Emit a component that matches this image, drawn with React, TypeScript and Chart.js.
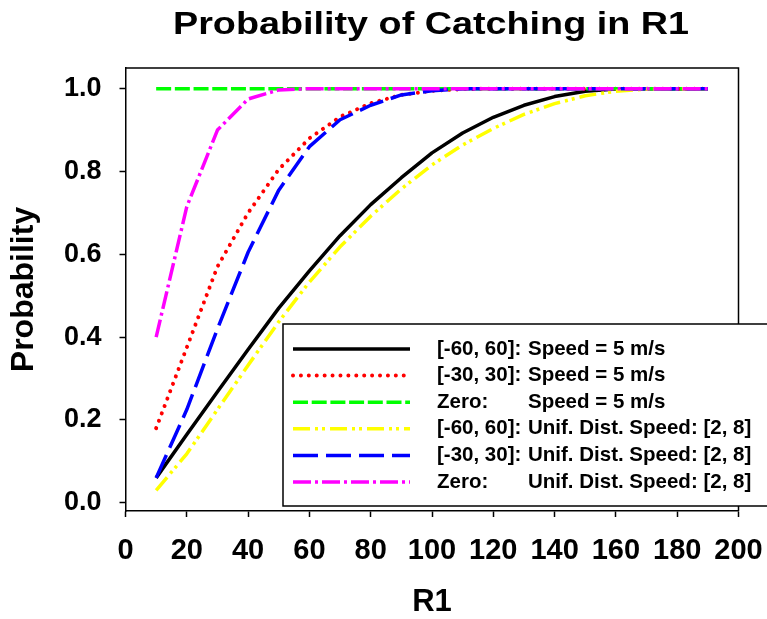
import React, { useEffect, useRef } from 'react';
import { Chart, registerables } from 'chart.js';

Chart.register(...registerables);

// ---- data ----
const rValues = [10, 20, 30, 40, 50, 60, 70, 80, 90, 100, 110, 120, 130, 140, 150, 160, 170, 180, 190];
const speed5Range60 = [0.06, 0.165, 0.268, 0.37, 0.47, 0.56, 0.645, 0.72, 0.785, 0.845, 0.893, 0.931, 0.96, 0.981, 0.994, 0.999, 1, 1, 1];
const speed5Range30 = [0.18, 0.375, 0.57, 0.7, 0.805, 0.88, 0.932, 0.965, 0.985, 0.995, 0.999, 1, 1, 1, 1, 1, 1, 1, 1];
const speed5Zero = [1, 1, 1, 1, 1, 1, 1, 1, 1, 1, 1, 1, 1, 1, 1, 1, 1, 1, 1];
const unifRange60 = [0.03, 0.118, 0.225, 0.332, 0.437, 0.533, 0.618, 0.692, 0.758, 0.816, 0.864, 0.904, 0.938, 0.964, 0.983, 0.994, 0.999, 1, 1];
const unifRange30 = [0.06, 0.225, 0.42, 0.605, 0.755, 0.86, 0.925, 0.96, 0.985, 0.995, 1, 1, 1, 1, 1, 1, 1, 1, 1];
const unifZero = [0.4, 0.715, 0.9, 0.975, 0.997, 1, 1, 1, 1, 1, 1, 1, 1, 1, 1, 1, 1, 1, 1];

const xTicks = [0, 20, 40, 60, 80, 100, 120, 140, 160, 180, 200];
const yTicks = [0, 0.2, 0.4, 0.6, 0.8, 1.0];

const titleText = 'Probability of Catching in R1';
const xTitle = 'R1';
const yTitle = 'Probability';

const legendPrefixes = ['[-60, 60]:', '[-30, 30]:', 'Zero:', '[-60, 60]:', '[-30, 30]:', 'Zero:'];
const legendSuffixes = [
  'Speed = 5 m/s',
  'Speed = 5 m/s',
  'Speed = 5 m/s',
  'Unif. Dist. Speed: [2, 8]',
  'Unif. Dist. Speed: [2, 8]',
  'Unif. Dist. Speed: [2, 8]',
];

const seriesValues = [speed5Range60, speed5Range30, speed5Zero, unifRange60, unifRange30, unifZero];

// ---- styles ----
const seriesStyles = [
  { color: '#000000', width: 3.5, dash: [] as number[], cap: 'butt', order: 5 },
  { color: '#ff0000', width: 4, dash: [0.01, 7.9], cap: 'round', order: 4 },
  { color: '#00ff00', width: 3.5, dash: [15, 3.7], cap: 'butt', order: 3 },
  { color: '#ffff00', width: 3.5, dash: [17, 5, 3, 4, 3, 5], cap: 'butt', order: 2 },
  { color: '#0000ff', width: 3.5, dash: [25, 8], cap: 'butt', order: 1 },
  { color: '#ff00ff', width: 3.5, dash: [18, 4, 3, 4], cap: 'butt', order: 0 },
];

const FONT = '"Liberation Sans", Arial, sans-serif';

const overlayPlugin = {
  id: 'overlay',
  afterDraw(chart: any) {
    const { ctx, chartArea: a } = chart;
    ctx.save();
    // plot frame (top & right)
    ctx.strokeStyle = '#000';
    ctx.lineWidth = 1.5;
    ctx.setLineDash([]);
    ctx.beginPath();
    ctx.moveTo(a.left, a.top);
    ctx.lineTo(a.right, a.top);
    ctx.lineTo(a.right, a.bottom);
    ctx.stroke();

    // title
    ctx.fillStyle = '#000';
    ctx.font = `bold 31px ${FONT}`;
    ctx.textAlign = 'center';
    ctx.textBaseline = 'middle';
    const tw = ctx.measureText(titleText).width;
    ctx.save();
    ctx.translate(431, 25);
    ctx.scale(516 / tw, 1);
    ctx.fillText(titleText, 0, 0);
    ctx.restore();

    // legend box
    const bx = 283, by = 324, bw = 520, bh = 182;
    ctx.fillStyle = '#fff';
    ctx.fillRect(bx, by, bw, bh);
    ctx.strokeStyle = '#000';
    ctx.lineWidth = 1.5;
    ctx.strokeRect(bx, by, bw, bh);

    for (let i = 0; i < seriesStyles.length; i++) {
      const st = seriesStyles[i];
      const y = 349 + i * 26.6;
      ctx.save();
      ctx.strokeStyle = st.color;
      ctx.lineWidth = st.width;
      ctx.lineCap = st.cap as CanvasLineCap;
      ctx.setLineDash(st.dash);
      ctx.beginPath();
      ctx.moveTo(293, y);
      ctx.lineTo(410, y);
      ctx.stroke();
      ctx.restore();
      ctx.fillStyle = '#000';
      ctx.font = `bold 20.5px ${FONT}`;
      ctx.textAlign = 'left';
      ctx.textBaseline = 'middle';
      ctx.fillText(legendPrefixes[i], 437, y);
      ctx.fillText(legendSuffixes[i], 528, y);
    }
    ctx.restore();
  },
};

export default function App() {
  const canvasRef = useRef<HTMLCanvasElement | null>(null);

  useEffect(() => {
    const canvas = canvasRef.current;
    if (!canvas) return;
    const datasets = seriesValues.map((vals, i) => {
      const st = seriesStyles[i];
      return {
        label: `${legendPrefixes[i]} ${legendSuffixes[i]}`,
        data: rValues.map((x, j) => ({ x, y: vals[j] })),
        borderColor: st.color,
        backgroundColor: st.color,
        borderWidth: st.width,
        borderDash: st.dash,
        borderCapStyle: st.cap,
        borderJoinStyle: 'round',
        pointRadius: 0,
        pointHoverRadius: 0,
        tension: 0,
        fill: false,
        order: st.order,
      };
    });

    const chart = new Chart(canvas, {
      type: 'line',
      data: { datasets: datasets as any },
      options: {
        responsive: false,
        animation: false,
        events: [],
        layout: { padding: { top: 68, right: 28.5, left: 0, bottom: 0 } },
        plugins: {
          legend: { display: false },
          title: { display: false },
          tooltip: { enabled: false },
        },
        scales: {
          x: {
            type: 'linear',
            min: 0,
            max: 200,
            afterBuildTicks: (axis: any) => {
              axis.ticks = xTicks.map((v) => ({ value: v }));
            },
            afterFit: (s: any) => {
              s.height = 108;
              s.paddingLeft = 0;
              s.paddingRight = 0;
            },
            ticks: {
              color: '#000',
              font: { family: FONT, size: 29, weight: 'bold' },
              padding: 17,
              maxRotation: 0,
              autoSkip: false,
              callback: (v: any) => String(v),
            },
            grid: {
              display: true,
              drawOnChartArea: false,
              drawTicks: true,
              tickLength: 6,
              tickWidth: 1.5,
              tickColor: '#000',
              color: '#000',
            },
            border: { display: true, color: '#000', width: 1.5 },
            title: {
              display: true,
              text: xTitle,
              color: '#000',
              font: { family: FONT, size: 31, weight: 'bold', lineHeight: 1 },
              padding: { top: 0, bottom: 1.5 },
            },
          },
          y: {
            type: 'linear',
            min: -0.02,
            max: 1.05,
            afterBuildTicks: (axis: any) => {
              axis.ticks = yTicks.map((v) => ({ value: v }));
            },
            afterFit: (s: any) => {
              s.width = 125.5;
              s.paddingTop = 0;
              s.paddingBottom = 0;
            },
            ticks: {
              color: '#000',
              font: { family: FONT, size: 27, weight: 'bold' },
              padding: 18,
              autoSkip: false,
              callback: (v: any) => Number(v).toFixed(1),
            },
            grid: {
              display: true,
              drawOnChartArea: false,
              drawTicks: true,
              tickLength: 6,
              tickWidth: 1.5,
              tickColor: '#000',
              color: '#000',
            },
            border: { display: true, color: '#000', width: 1.5 },
            title: {
              display: true,
              text: yTitle,
              color: '#000',
              font: { family: FONT, size: 32, weight: 'bold', lineHeight: 1 },
              padding: { top: 8, bottom: 0 },
            },
          },
        },
      },
      plugins: [overlayPlugin],
    });

    return () => {
      chart.destroy();
    };
  }, []);

  return (
    <div style={{ position: 'absolute', left: 0, top: 0, width: 767, height: 619, background: '#fff' }}>
      <canvas ref={canvasRef} width={767} height={619} style={{ display: 'block' }} />
    </div>
  );
}
